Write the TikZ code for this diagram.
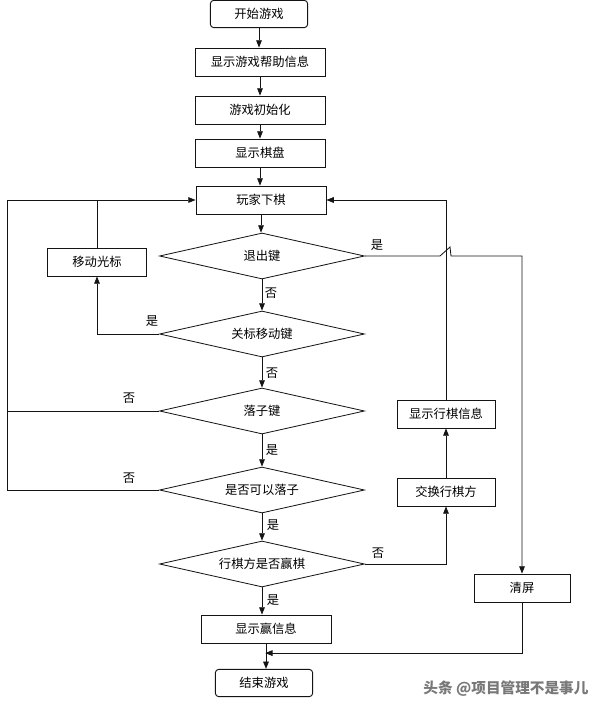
\documentclass[tikz,border=0pt]{standalone}
\usepackage{fontspec}
\setmainfont{Noto Sans CJK SC}
\usepackage{tikz}
\usetikzlibrary{shapes.geometric, arrows.meta, positioning, calc}
\definecolor{cLine}{RGB}{20,20,20}
\definecolor{cMark}{RGB}{120,120,120}
\tikzset{
	startstop/.style={rectangle, rounded corners=3pt, minimum width=2.92cm, minimum height=0.82cm, align=center, draw=cLine, line width=0.8pt},
	process/.style  ={rectangle, minimum width=3.9cm, minimum height=0.84cm, align=center, draw=cLine, line width=0.7pt},
	decision/.style ={diamond, aspect=4, minimum width=6.15cm, minimum height=1.38cm, inner sep=0pt, align=center, draw=cLine, line width=0.7pt},
	lbl/.style      ={inner sep=1pt},
	flowarrow/.style={-{Triangle[length=2.2mm, width=1.7mm]}, line width=0.7pt, draw=cLine},
	link/.style     ={line width=0.7pt, draw=cLine},
}

\begin{document}
\begin{tikzpicture}[x=0.03cm, y=-0.03cm, every node/.style={font=\fontsize{10.5pt}{12pt}\selectfont}]
	\useasboundingbox (0,0) rectangle (599,713);
	% main column
	\node[startstop] (start) at (259,14) {开始游戏};
	\node[process] (help) at (260,62) {显示游戏帮助信息};
	\node[process] (init) at (260,110) {游戏初始化};
	\node[process] (board) at (260,153) {显示棋盘};
	\node[process] (play) at (261,200) {玩家下棋};
	\node[decision] (quit) at (262,256) {退出键};
	\node[decision] (cursorkey) at (262,334) {关标移动键};
	\node[decision] (dropkey) at (262,411) {落子键};
	\node[decision] (candrop) at (262,490) {是否可以落子};
	\node[decision] (win) at (262,564) {行棋方是否赢棋};
	\node[process] (winmsg) at (266,629) {显示赢信息};
	\node[startstop] (finish) at (264,683) {结束游戏};
	% side boxes
	\node[process, minimum width=2.97cm] (move) at (97,262) {移动光标};
	\node[process, minimum width=2.94cm] (turninfo) at (446,414) {显示行棋信息};
	\node[process, minimum width=2.94cm] (swap) at (446,492) {交换行棋方};
	\node[process, minimum width=2.88cm] (cls) at (522,588) {清屏};
	\coordinate (lft) at (7,200);
	\coordinate (join) at ($(winmsg.south)!0.38!(finish.north)$);
	% branch labels
	\node[lbl] (n1) at (271,293) {否};
	\node[lbl] (n2) at (272,373) {否};
	\node[lbl] (y1) at (272,450) {是};
	\node[lbl] (y2) at (273,525) {是};
	\node[lbl] (y3) at (273,600) {是};
	\node[lbl] (y4) at (377,245) {是};
	\node[lbl] (y5) at (152,321) {是};
	\node[lbl] (n3) at (129,398) {否};
	\node[lbl] (n4) at (129,478) {否};
	\node[lbl] (n5) at (378,553) {否};
	\node[text=cMark, font=\bfseries\fontsize{12.5pt}{14pt}\selectfont] (wm) at (506,689) {头条 @项目管理不是事儿};
	% connectors
	\draw[flowarrow] (start.south) -- (start.south |- help.north);
	\draw[flowarrow] (help) -- (init);
	\draw[flowarrow] (init) -- (board);
	\draw[flowarrow] (board.south) -- (board.south |- play.north);
	\draw[flowarrow] (play.south) -- (play.south |- quit.north);
	\draw[flowarrow] (quit) -- (cursorkey);
	\draw[flowarrow] (cursorkey) -- (dropkey);
	\draw[flowarrow] (dropkey) -- (candrop);
	\draw[flowarrow] (candrop) -- (win);
	\draw[flowarrow] (win.south) -- (win.south |- winmsg.north);
	\draw[flowarrow] (winmsg.south) -- (winmsg.south |- finish.north);
	\draw[flowarrow] (cursorkey.west) -| (move.south);
	\draw[link] (move.north) -- (move.north |- play.west);
	\draw[flowarrow] (candrop.west) -| (lft) -- (play.west);
	\draw[link] (dropkey.west) -- (dropkey.west -| lft);
	\draw[flowarrow] (quit.east) -- ($(quit.east -| turninfo.north)+(-6,0)$) -- ++(10,-9) -- ++(1,9) -| (cls.north);
	\draw[flowarrow] (cls.south) |- (join);
	\draw[flowarrow] (win.east) -| (swap.south);
	\draw[flowarrow] (swap) -- (turninfo);
	\draw[flowarrow] (turninfo.north) |- (play.east);
\end{tikzpicture}
\end{document}
